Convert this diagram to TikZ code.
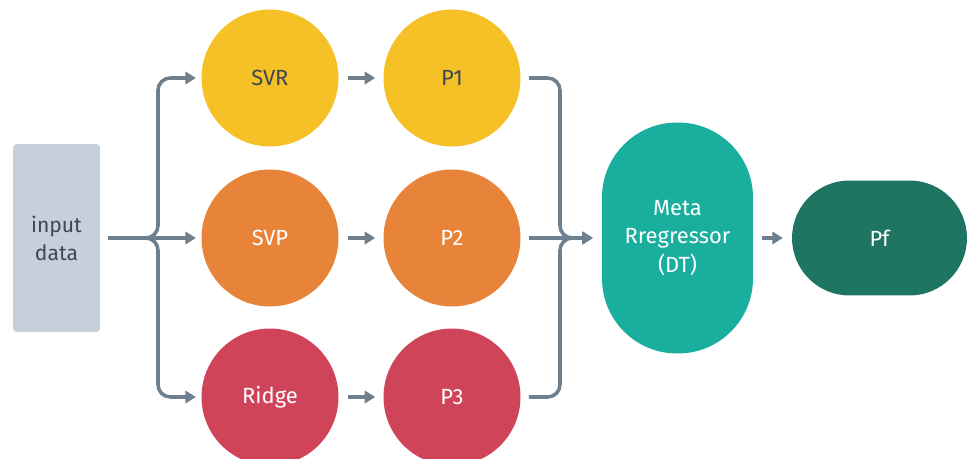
\documentclass[tikz,border=0pt]{standalone}
\usepackage{fontspec}
\setmainfont{Fira Sans}
\usepackage{xcolor}
\usetikzlibrary{shapes,arrows.meta,positioning,calc}

\definecolor{inputgrey}{HTML}{C5D0DA}
\definecolor{linegrey}{HTML}{6E7F8E}
\definecolor{darktext}{HTML}{3D4852}
\definecolor{svryellow}{HTML}{F5C127}
\definecolor{svporange}{HTML}{E8833A}
\definecolor{ridgered}{HTML}{D0445A}
\definecolor{metateal}{HTML}{1AAE9F}
\definecolor{pfgreen}{HTML}{1E7562}

\begin{document}
\begin{tikzpicture}[
    x=0.02cm, y=-0.02cm,
    inbox/.style={rectangle, fill=inputgrey, rounded corners=2pt, minimum width=1.74cm, minimum height=3.76cm, align=center, text=darktext, font=\fontsize{12}{16}\selectfont},
    model/.style={circle, minimum size=2.74cm, inner sep=0pt, align=center, font=\fontsize{12.5}{16}\selectfont},
    metabox/.style={rectangle, fill=metateal, rounded corners=1.5cm, minimum width=3.02cm, minimum height=4.62cm, align=center, text=white, font=\fontsize{12.5}{16}\selectfont},
    outbox/.style={rectangle, fill=pfgreen, rounded corners=1.15cm, minimum width=3.5cm, minimum height=2.3cm, align=center, text=white, font=\fontsize{12.5}{16}\selectfont},
    arrow/.style={-{Triangle[length=6pt,width=7pt]}, line width=2pt, draw=linegrey, rounded corners=7pt},
]
    \useasboundingbox (0,0) rectangle (967,459);

    % input and the three base models
    \node[inbox] (input) at (56.5,238) {input\\data};
    \node[model, fill=svryellow, text=darktext] (svr) at (270,78) {SVR};
    \node[model, fill=svporange, text=white] (svp) at (270,238) {SVP};
    \node[model, fill=ridgered, text=white] (ridge) at (270,397) {Ridge};

    % predictions
    \node[model, fill=svryellow, text=darktext] (p1) at (452,78) {P1};
    \node[model, fill=svporange, text=white] (p2) at (452,238) {P2};
    \node[model, fill=ridgered, text=white] (p3) at (452,397) {P3};

    % stacking
    \node[metabox] (meta) at (677.5,238) {Meta\\Rregressor\\(DT)};
    \node[outbox] (pf) at (879.5,238) {Pf};

    \coordinate (split) at (158,238);
    \coordinate (merge) at (560,238);

    \draw[arrow, shorten <=4.5pt, shorten >=3pt] (input.east) -- (split) |- (svr.west);
    \draw[arrow, shorten <=4.5pt, shorten >=3pt] (input.east) -- (svp.west);
    \draw[arrow, shorten <=4.5pt, shorten >=3pt] (input.east) -- (split) |- (ridge.west);

    \draw[arrow, shorten <=5pt, shorten >=4.5pt] (svr) -- (p1);
    \draw[arrow, shorten <=5pt, shorten >=4.5pt] (svp) -- (p2);
    \draw[arrow, shorten <=5pt, shorten >=4.5pt] (ridge) -- (p3);

    \draw[arrow, shorten <=4.5pt, shorten >=5pt] (p1.east) -| (merge) -- (meta.west);
    \draw[arrow, shorten <=4.5pt, shorten >=5pt] (p2.east) -- (meta.west);
    \draw[arrow, shorten <=4.5pt, shorten >=5pt] (p3.east) -| (merge) -- (meta.west);

    \draw[arrow, shorten <=5pt, shorten >=5pt] (meta) -- (pf);
\end{tikzpicture}
\end{document}
